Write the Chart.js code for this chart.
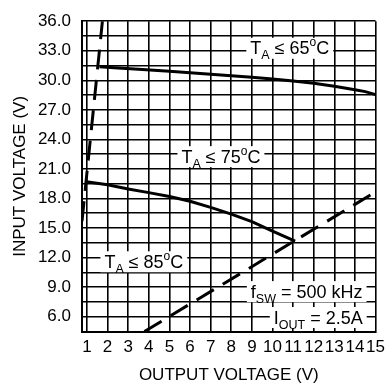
<!DOCTYPE html>
<html>
<head>
<meta charset="utf-8">
<script src="https://cdn.jsdelivr.net/npm/chart.js@4.4.0/dist/chart.umd.min.js"></script>
<style>
  html, body { margin: 0; padding: 0; background: #fff; }
  #wrap { width: 391px; height: 383px; }
</style>
</head>
<body>
<div id="wrap"><canvas id="chart" width="391" height="383"></canvas></div>
<script>
// values (Vout in V, Vin in V)
const t65Vout = [1.61, 2.5, 3.5, 5, 6, 7, 8, 9, 10, 11, 12, 13, 14, 14.5, 15];
const t65Vin = [31.37, 31.25, 31.12, 30.92, 30.77, 30.62, 30.47, 30.32, 30.14, 29.94, 29.7, 29.4, 29.05, 28.85, 28.55];
const t75Vout = [0.97, 2, 3, 4, 5, 6, 7, 8, 9, 10, 11.1];
const t75Vin = [19.7, 19.4, 18.97, 18.6, 18.2, 17.72, 17.1, 16.42, 15.65, 14.7, 13.67];
const minOnVout = [0.76, 1.75];
const minOnVin = [15.7, 36.0];
const maxDutyVout = [3.79, 15];
const maxDutyVin = [4.5, 18.67];

const xTicks = [1, 2, 3, 4, 5, 6, 7, 8, 9, 10, 11, 12, 13, 14, 15];
const yTickLabels = ['6.0', '9.0', '12.0', '15.0', '18.0', '21.0', '24.0', '27.0', '30.0', '33.0', '36.0'];
const yMin = 4.5, yMax = 36, yGridStep = 1.5;

// text notes: [text, kind]
const notes = [
    { x: 10.84, y: 33.3, parts: [['T', ''], ['A', 'sub'], [' \u2264 65', ''], ['o', 'sup'], ['C', '']] },
    { x: 7.5, y: 22.3, parts: [['T', ''], ['A', 'sub'], [' \u2264 75', ''], ['o', 'sup'], ['C', '']] },
    { x: 3.76, y: 11.63, parts: [['T', ''], ['A', 'sub'], [' \u2264 85', ''], ['o', 'sup'], ['C', '']] },
    { x: 11.66, y: 8.6, parts: [['f', ''], ['SW', 'sub'], [' = 500 kHz', '']] },
    { x: 12.22, y: 5.97, parts: [['I', ''], ['OUT', 'sub'], [' = 2.5A', '']] }
];

const FONT = '"Liberation Sans", Arial, Helvetica, sans-serif';
Chart.defaults.font.family = FONT;
Chart.defaults.color = '#000';

function pts(xs, ys) {
    return xs.map((x, i) => ({ x: x, y: ys[i] }));
}

function fontOf(kind) {
    if (kind === 'sub') return '12.5px ' + FONT;
    if (kind === 'sup') return '12px ' + FONT;
    return '18px ' + FONT;
}

const notesPlugin = {
    id: 'notes',
    afterDatasetsDraw(chart) {
        const { ctx, scales: { x, y } } = chart;
        ctx.save();
        notes.forEach(n => {
            const cx = x.getPixelForValue(n.x);
            const cy = y.getPixelForValue(n.y);
            let w = 0;
            n.parts.forEach(([t, k]) => { ctx.font = fontOf(k); w += ctx.measureText(t).width; });
            ctx.fillStyle = '#fff';
            ctx.fillRect(cx - w / 2 - 4, cy - 10, w + 8, 21);
            ctx.fillStyle = '#000';
            ctx.textBaseline = 'alphabetic';
            ctx.textAlign = 'left';
            let px = cx - w / 2;
            const base = cy + 6.5;
            n.parts.forEach(([t, k]) => {
                ctx.font = fontOf(k);
                const dy = k === 'sub' ? 5 : (k === 'sup' ? -8 : 0);
                ctx.fillText(t, px, base + dy);
                px += ctx.measureText(t).width;
            });
        });
        ctx.restore();
    }
};

const solid = { borderColor: '#000', borderWidth: 3, pointRadius: 0, fill: false, tension: 0 };
const dashed = { borderColor: '#000', borderWidth: 3, pointRadius: 0, fill: false, tension: 0, borderDash: [20, 10.5] };

new Chart(document.getElementById('chart'), {
    type: 'line',
    data: {
        datasets: [
            Object.assign({ label: 'TA <= 65C', data: pts(t65Vout, t65Vin) }, solid),
            Object.assign({ label: 'TA <= 75C', data: pts(t75Vout, t75Vin) }, solid),
            Object.assign({ label: 'min on-time', data: pts(minOnVout, minOnVin) }, dashed),
            Object.assign({ label: 'max duty', data: pts(maxDutyVout, maxDutyVin) }, dashed)
        ]
    },
    options: {
        responsive: false,
        animation: false,
        layout: { padding: { top: 16, right: 10, left: 0, bottom: 0 } },
        plugins: { legend: { display: false }, tooltip: { enabled: false } },
        scales: {
            x: {
                type: 'linear',
                min: 0.76,
                max: 15,
                afterBuildTicks: s => { s.ticks = xTicks.map(v => ({ value: v })); },
                afterFit: s => { s.height = 51.5; },
                grid: { color: '#000', lineWidth: 1.6, drawTicks: false },
                border: { display: true, color: '#000', width: 2 },
                ticks: {
                    autoSkip: false, maxRotation: 0, padding: 6,
                    font: { size: 17 }, color: '#000'
                },
                title: {
                    display: true, text: 'OUTPUT VOLTAGE (V)', color: '#000',
                    font: { size: 17, lineHeight: 0.85 }, padding: { top: 0, bottom: 0 }
                }
            },
            y: {
                type: 'linear',
                min: yMin,
                max: yMax,
                afterBuildTicks: s => {
                    const t = [];
                    for (let v = yMin; v <= yMax + 1e-9; v += yGridStep) t.push({ value: Math.round(v * 10) / 10 });
                    s.ticks = t;
                },
                afterFit: s => { s.width = 82; },
                grid: { color: '#000', lineWidth: 1.6, drawTicks: false },
                border: { display: true, color: '#000', width: 2 },
                ticks: {
                    autoSkip: false, padding: 11,
                    font: { size: 17 }, color: '#000',
                    callback: v => {
                        const lab = Number(v).toFixed(1);
                        return yTickLabels.includes(lab) ? lab : '';
                    }
                },
                title: {
                    display: true, text: 'INPUT VOLTAGE (V)', color: '#000',
                    font: { size: 17 }, padding: { top: 10, bottom: 0 }
                }
            }
        }
    },
    plugins: [notesPlugin]
});
</script>
</body>
</html>
